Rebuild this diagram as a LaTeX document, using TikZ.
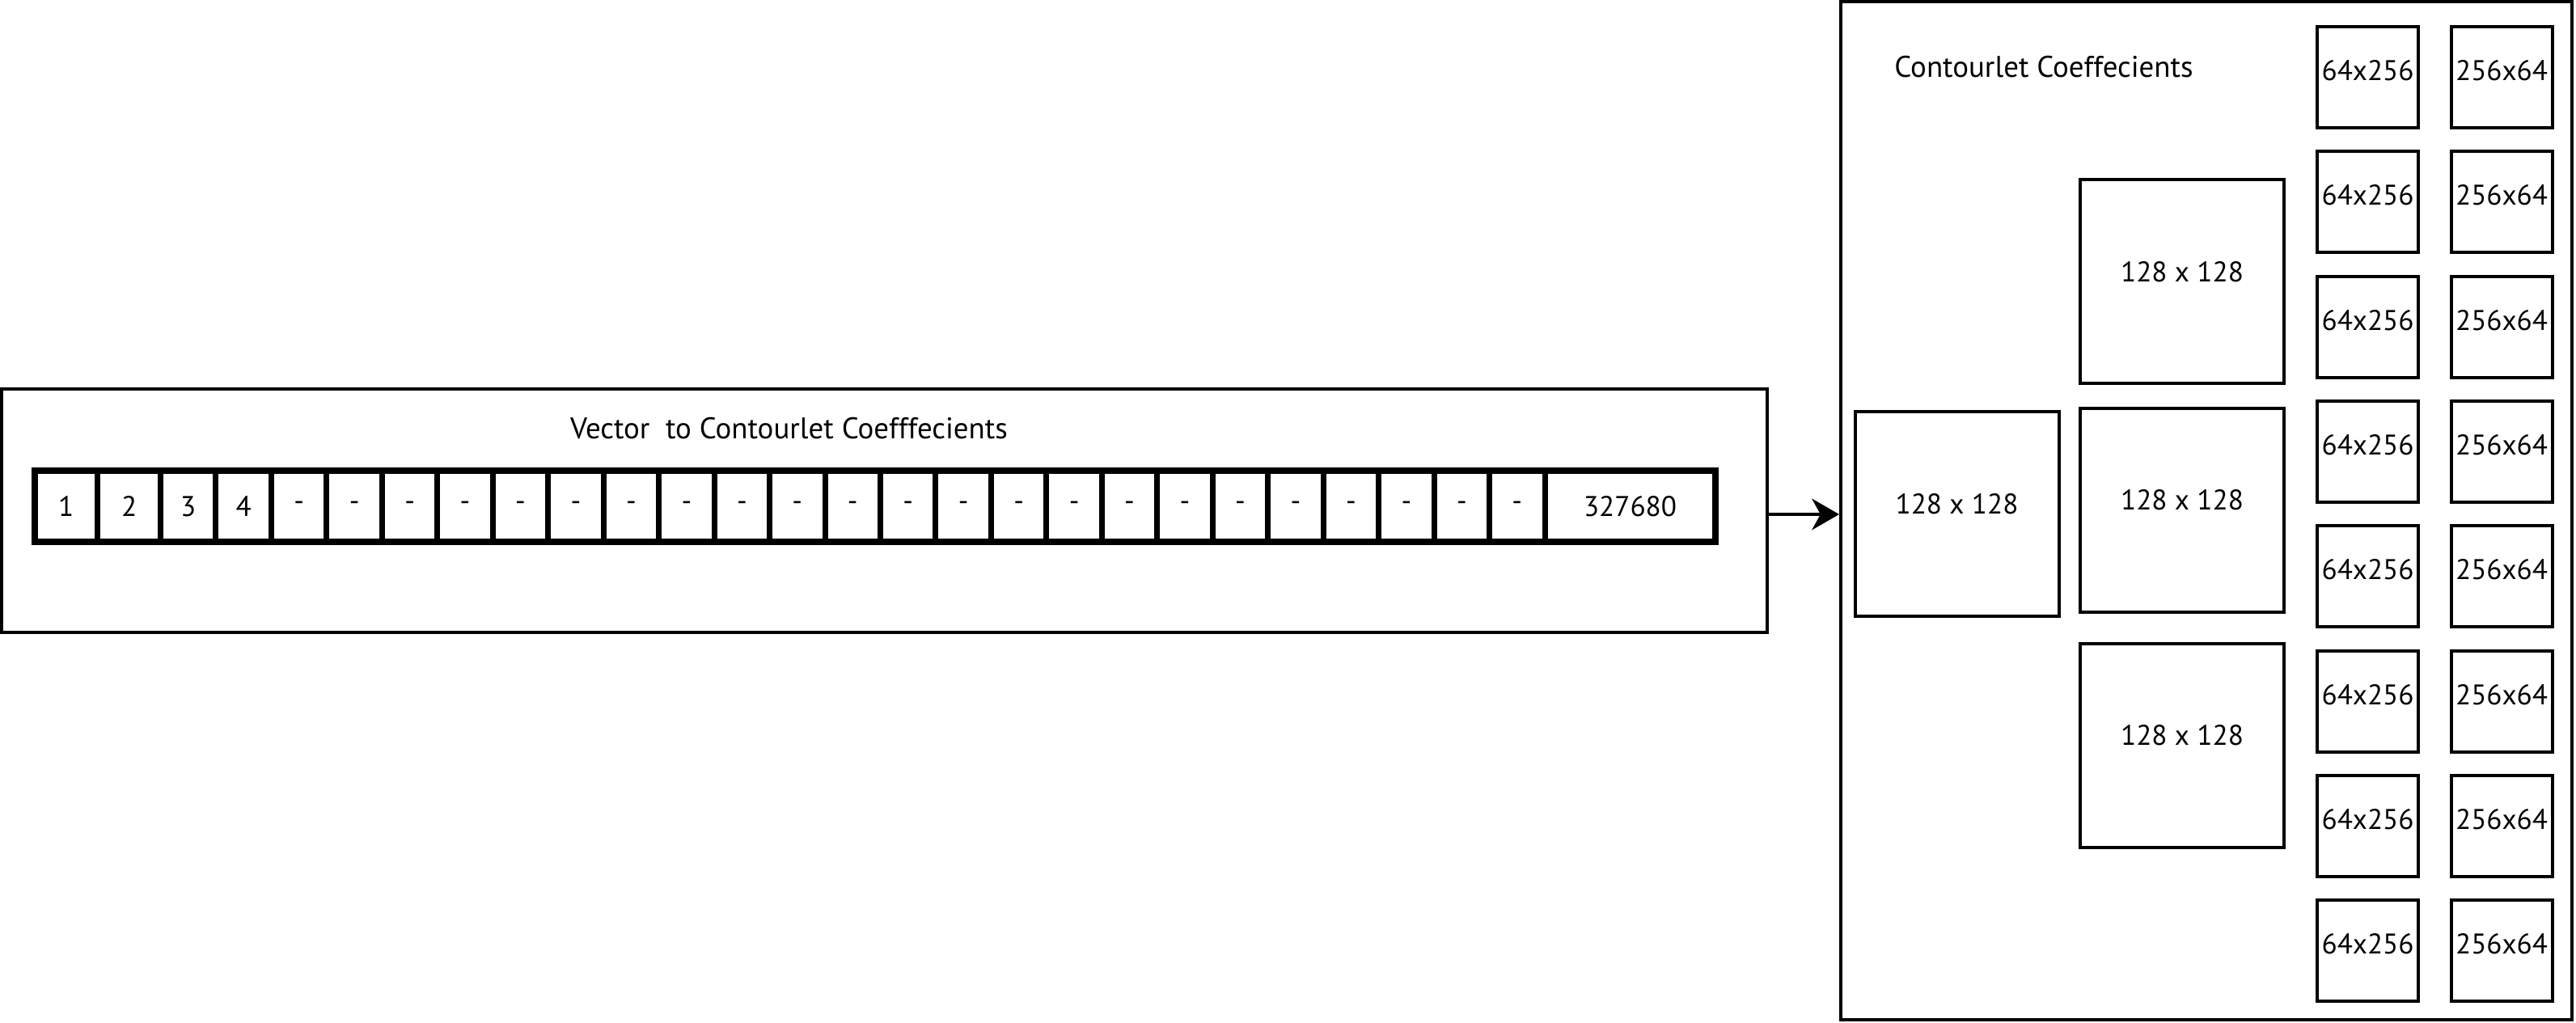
\documentclass[tikz,border=0pt]{standalone}
\usepackage{fontspec}
\setmainfont{PT Sans}
\usetikzlibrary{arrows.meta}

\tikzset{
	panel/.style={draw, line width=0.04cm, inner sep=0pt},
	heading/.style={font=\fontsize{10.5pt}{12pt}\selectfont},
	cell/.style={draw, line width=0.07cm, minimum height=0.88cm, inner sep=0pt},
	strip/.style={draw, line width=0.08cm, minimum height=0.88cm, inner sep=0pt},
	bigblock/.style={draw, line width=0.04cm, minimum width=2.52cm, minimum height=2.52cm, inner sep=0pt, text depth=7.4pt},
	subband/.style={draw, line width=0.04cm, minimum width=1.25cm, minimum height=1.25cm, inner sep=0pt, text depth=4.8pt},
	flow/.style={line width=0.04cm, -{Stealth[length=9.6pt, width=11pt, inset=3pt]}}
}

\begin{document}
\begin{tikzpicture}[font=\fontsize{10pt}{12pt}\selectfont]
	
	\useasboundingbox (0cm,0cm) rectangle (31.85cm,-12.65cm);
	\node[panel, minimum width=21.83cm, minimum height=3.01cm] (vector) at (10.935cm,-6.315cm) {};
	\node[heading] (vectitle) at (9.755cm,-5.30cm) {Vector~ to Contourlet Coefffecients};
	\node[cell, minimum width=0.781cm] (cell1) at (0.8165cm,-6.26cm) {1};
	\node[cell, minimum width=0.778cm] (cell2) at (1.596cm,-6.26cm) {2};
	\foreach \i/\t in {3/3,4/4}
		\node[cell, minimum width=0.6846cm] (cell\i) at ({1.985+(\i-2.5)*0.6846},-6.26) {\t};
	\foreach \i in {5,...,27}
		\node[cell, minimum width=0.6846cm] (cell\i) at ({1.985+(\i-2.5)*0.6846},-6.26) {-};
	\node[cell, minimum width=2.11cm] (cell28) at (20.155cm,-6.26cm) {327680};
	\node[strip, minimum width=20.784cm] (row) at (10.818cm,-6.26cm) {};
	
	\node[panel, minimum width=9.04cm, minimum height=12.59cm] (coeffs) at (27.28cm,-6.315cm) {};
	\node[heading] (coeftitle) at (25.27cm,-0.83cm) {Contourlet Coeffecients};
	\draw[flow] ([yshift=-0.045cm]vector.east) -- ([yshift=-0.045cm]coeffs.west);
	
	\node[bigblock] (lowpass) at (24.195cm,-6.355cm) {128 x 128};
	\node[bigblock] (bandA) at (26.98cm,-3.485cm) {128 x 128};
	\node[bigblock] (bandB) at (26.98cm,-6.31cm) {128 x 128};
	\node[bigblock] (bandC) at (26.98cm,-9.215cm) {128 x 128};
	\foreach \r in {0,...,7} {
		\node[subband] (vert\r) at (29.275, {-0.955-1.543*\r}) {64x256};
		\node[subband] (horz\r) at (30.93, {-0.955-1.543*\r}) {256x64};
	}
	
\end{tikzpicture}
\end{document}
